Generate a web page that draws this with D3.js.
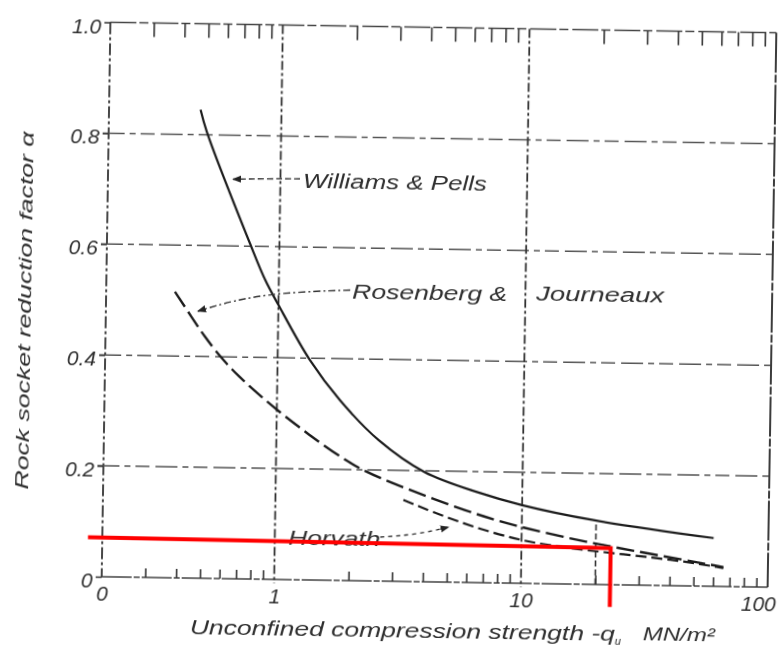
<!DOCTYPE html>
<html>
<head>
<meta charset="utf-8">
<script src="https://cdn.jsdelivr.net/npm/d3@7"></script>
<style>
  body { margin: 0; background: #fff; }
  text { font-family: "Liberation Sans", "DejaVu Sans", sans-serif; font-style: italic; fill: #2e2e2e; }
</style>
</head>
<body>
<svg id="chart" width="784" height="652"></svg>
<script>
// Values: q_u in MN/m2, alpha (rock socket reduction factor)
var wpStrength = [0.47, 0.5, 0.76, 0.88, 1.0, 1.35, 1.8, 2.6, 4.0, 6.7, 10, 19.5, 60];
var wpAlpha = [0.845, 0.805, 0.605, 0.54, 0.495, 0.397, 0.325, 0.254, 0.198, 0.162, 0.141, 0.116, 0.087];

var rjStrength = [0.38, 0.45, 0.5, 0.59, 0.7, 0.85, 0.98, 1.33, 2.0, 2.7, 6.2, 10.1, 18.4, 32, 66];
var rjAlpha = [0.516, 0.468, 0.438, 0.398, 0.364, 0.332, 0.309, 0.264, 0.21, 0.183, 0.125, 0.1, 0.076, 0.058, 0.035];

var hvStrength = [3.3, 5.6, 10.1, 17.3, 44, 66];
var hvAlpha = [0.147, 0.107, 0.075, 0.062, 0.046, 0.033];

// axis ticks
var xTickValues = [0.2, 1, 10, 100];
var xTickLabels = ["0", "1", "10", "100"];
var xGridValues = [1, 10];
var xMinorTicks = [0.3, 0.4, 0.5, 0.6, 0.7, 0.8, 0.9, 2, 3, 4, 5, 6, 7, 8, 9, 20, 30, 40, 50, 60, 70, 80, 90];
var yTickValues = [0, 0.2, 0.4, 0.6, 0.8, 1.0];
var yTickLabels = ["0", "0.2", "0.4", "0.6", "0.8", "1.0"];
var yGridValues = [0.2, 0.4, 0.6, 0.8];

// red hand-drawn marker added on top of the scan (q_u ~ 23, alpha ~ 0.07)
var markStrength = [0.175, 23, 23];
var markAlpha = [0.071, 0.066, -0.04];

var svg = d3.select("#chart");
var x = d3.scaleLog().domain([0.2, 100]).range([106, 772]);
var y = d3.scaleLinear().domain([0, 1]).range([582, 27.5]);

var defs = svg.append("defs");
defs.append("filter").attr("id", "soft")
    .append("feGaussianBlur").attr("stdDeviation", 0.45);
defs.append("marker")
    .attr("id", "arrow")
    .attr("viewBox", "0 0 10 10")
    .attr("refX", 9).attr("refY", 5)
    .attr("markerWidth", 9).attr("markerHeight", 9)
    .attr("markerUnits", "userSpaceOnUse")
    .attr("orient", "auto")
    .append("path").attr("d", "M0,1 L10,5 L0,9 Z").attr("fill", "#222");

// the scan is tilted a little, so the whole figure is turned by ~0.9 deg
var g = svg.append("g")
    .attr("transform", "rotate(0.9 440 305)")
    .attr("filter", "url(#soft)");

// frame
g.append("line").attr("x1", x(0.2)).attr("x2", x(100)).attr("y1", y(1)).attr("y2", y(1))
    .attr("stroke", "#444").attr("stroke-width", 1.6).attr("stroke-dasharray", "26,3,9,4");
g.append("line").attr("x1", x(0.2)).attr("x2", x(100)).attr("y1", y(0)).attr("y2", y(0))
    .attr("stroke", "#444").attr("stroke-width", 1.6).attr("stroke-dasharray", "30,2,6,2");
g.append("line").attr("x1", x(0.2)).attr("x2", x(0.2)).attr("y1", y(1)).attr("y2", y(0))
    .attr("stroke", "#333").attr("stroke-width", 1.8).attr("stroke-dasharray", "12,3,3,3");
g.append("line").attr("x1", x(100)).attr("x2", x(100)).attr("y1", y(1)).attr("y2", y(0))
    .attr("stroke", "#333").attr("stroke-width", 1.9).attr("stroke-dasharray", "40,2,8,2");

// grid
g.selectAll(".hgrid").data(yGridValues).enter().append("line")
    .attr("class", "hgrid")
    .attr("x1", x(0.2) - 6).attr("x2", x(100))
    .attr("y1", function(d) { return y(d); })
    .attr("y2", function(d) { return y(d); })
    .attr("stroke", "#555").attr("stroke-width", 1.5)
    .attr("stroke-dasharray", "22,5,6,5,14,6");
g.selectAll(".vgrid").data(xGridValues).enter().append("line")
    .attr("class", "vgrid")
    .attr("x1", function(d) { return x(d); })
    .attr("x2", function(d) { return x(d); })
    .attr("y1", y(1)).attr("y2", y(0) + 4)
    .attr("stroke", "#333").attr("stroke-width", 1.8)
    .attr("stroke-dasharray", "9,3,3,3");

// minor log ticks, bottom pointing up and top hanging down
var bottomTicks = g.append("g").attr("transform", "translate(0," + y(0) + ")")
    .call(d3.axisBottom(x).tickValues(xMinorTicks).tickSize(-9).tickFormat(""));
var topTicks = g.append("g").attr("transform", "translate(0," + y(1) + ")")
    .call(d3.axisTop(x).tickValues(xMinorTicks).tickSize(-14).tickFormat(""));
[bottomTicks, topTicks].forEach(function(a) {
    a.select(".domain").remove();
    a.selectAll("line").attr("stroke", "#333").attr("stroke-width", 1.6);
});
// tall construction tick at 20 reaching the Williams & Pells curve
g.append("line").attr("x1", x(20)).attr("x2", x(20)).attr("y1", y(0)).attr("y2", y(0.116))
    .attr("stroke", "#333").attr("stroke-width", 1.6).attr("stroke-dasharray", "6,3");

// y axis labels
var yAxis = g.append("g").attr("transform", "translate(" + x(0.2) + ",0)")
    .call(d3.axisLeft(y).tickValues(yTickValues).tickSize(6).tickPadding(3)
        .tickFormat(function(d, i) { return yTickLabels[i]; }));
yAxis.select(".domain").remove();
yAxis.selectAll("line").attr("stroke", "#333").attr("stroke-width", 1.5);
yAxis.selectAll("text").attr("dy", "0.5em").style("font-size", "21px")
    .style("font-family", "Liberation Sans").attr("fill", "#333");

// x axis labels
var xAxis = g.append("g").attr("transform", "translate(0," + y(0) + ")")
    .call(d3.axisBottom(x).tickValues(xTickValues).tickSize(0).tickPadding(9)
        .tickFormat(function(d, i) { return xTickLabels[i]; }));
xAxis.select(".domain").remove();
xAxis.selectAll("text").style("font-size", "21px")
    .style("font-family", "Liberation Sans").attr("fill", "#333");
// the last label sits in the corner, keep it inside the page
xAxis.selectAll("text").filter(function(d) { return d === 100; })
    .attr("text-anchor", "end").attr("x", 8);

// curves
var line = d3.line()
    .x(function(d) { return x(d[0]); })
    .y(function(d) { return y(d[1]); })
    .curve(d3.curveBasis);

g.append("path").datum(d3.zip(wpStrength, wpAlpha))
    .attr("d", line.curve(d3.curveCatmullRom.alpha(0.5))).attr("fill", "none")
    .attr("stroke", "#1e1e1e").attr("stroke-width", 2.2);
line.curve(d3.curveBasis);
g.append("path").datum(d3.zip(rjStrength, rjAlpha))
    .attr("d", line).attr("fill", "none")
    .attr("stroke", "#1e1e1e").attr("stroke-width", 2.4)
    .attr("stroke-dasharray", "18,6");
g.append("path").datum(d3.zip(hvStrength, hvAlpha))
    .attr("d", line).attr("fill", "none")
    .attr("stroke", "#1e1e1e").attr("stroke-width", 2.2)
    .attr("stroke-dasharray", "11,5");

// leader lines to the curves
var leader = d3.line().curve(d3.curveBasis);
g.append("path")
    .attr("d", leader([[298, 181], [265, 181.5], [231, 182.5]]))
    .attr("fill", "none").attr("stroke", "#333").attr("stroke-width", 1.4)
    .attr("stroke-dasharray", "6,3").attr("marker-end", "url(#arrow)");
g.append("path")
    .attr("d", leader([[350, 291.5], [280, 295], [232, 304], [198, 315]]))
    .attr("fill", "none").attr("stroke", "#333").attr("stroke-width", 1.4)
    .attr("stroke-dasharray", "7,3,2,3").attr("marker-end", "url(#arrow)");
g.append("path")
    .attr("d", leader([[384, 538], [420, 535], [452, 527]]))
    .attr("fill", "none").attr("stroke", "#333").attr("stroke-width", 1.4)
    .attr("stroke-dasharray", "4,4").attr("marker-end", "url(#arrow)");

// curve names
g.append("text").attr("x", 301).attr("y", 190)
    .attr("textLength", 184).attr("lengthAdjust", "spacingAndGlyphs")
    .style("font-size", "20px").text("Williams & Pells");
g.append("text").attr("x", 352).attr("y", 300)
    .attr("textLength", 155).attr("lengthAdjust", "spacingAndGlyphs")
    .style("font-size", "20px").text("Rosenberg &");
g.append("text").attr("x", 536).attr("y", 299)
    .attr("textLength", 128).attr("lengthAdjust", "spacingAndGlyphs")
    .style("font-size", "20px").text("Journeaux");
g.append("text").attr("x", 292).attr("y", 547)
    .attr("textLength", 92).attr("lengthAdjust", "spacingAndGlyphs")
    .style("font-size", "21px").text("Horvath");

// axis titles
g.append("text")
    .attr("transform", "translate(31,317) rotate(-90)")
    .attr("text-anchor", "middle")
    .attr("textLength", 358).attr("lengthAdjust", "spacingAndGlyphs")
    .style("font-size", "19px").attr("fill", "#555")
    .text("Rock socket reduction factor \u03b1");

var xTitle = g.append("text").attr("x", 195).attr("y", 638)
    .style("font-size", "20px").attr("fill", "#333");
xTitle.append("tspan")
    .attr("textLength", 425).attr("lengthAdjust", "spacingAndGlyphs")
    .text("Unconfined compression strength -q");
xTitle.append("tspan").attr("dy", 4).style("font-size", "11px").text("u");
g.append("text").attr("x", 648).attr("y", 637)
    .attr("textLength", 72).attr("lengthAdjust", "spacingAndGlyphs")
    .style("font-size", "19px").attr("fill", "#333")
    .text("MN/m\u00b2");

// red marker drawn over the figure
svg.append("path")
    .datum(d3.zip(markStrength, markAlpha))
    .attr("transform", "rotate(0.9 440 305)")
    .attr("d", d3.line().x(function(d) { return x(d[0]); }).y(function(d) { return y(d[1]); }))
    .attr("fill", "none").attr("stroke", "#ff0000").attr("stroke-width", 4)
    .attr("stroke-linejoin", "miter");
</script>
</body>
</html>
